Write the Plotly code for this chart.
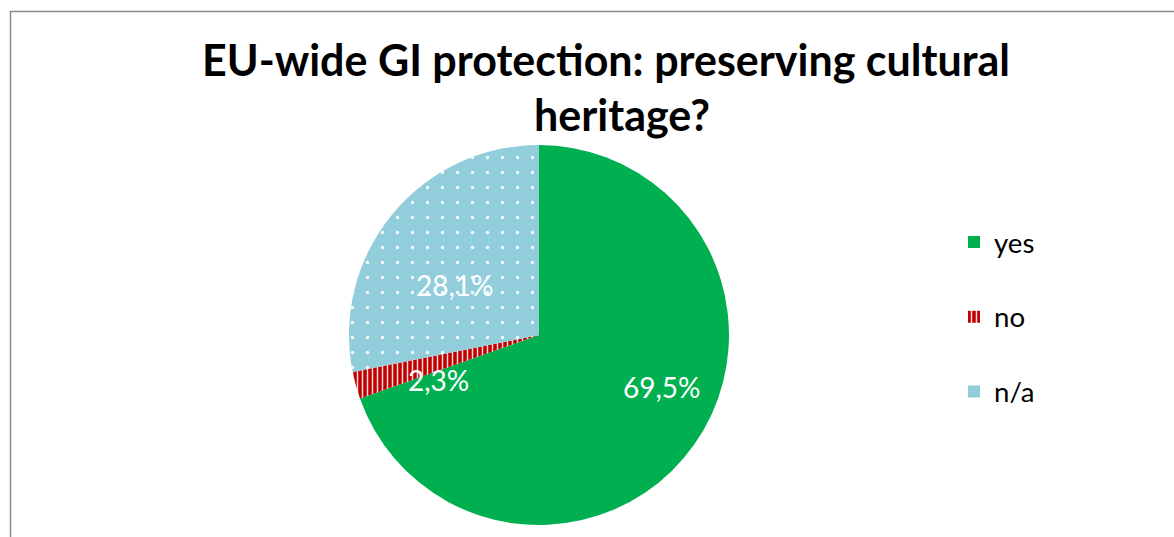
import math
import plotly.graph_objects as go

# Survey answers (share of respondents, %)
categories = ["yes", "no", "n/a"]
shares = [69.5, 2.3, 28.1]
title_lines = ["EU-wide GI protection: preserving cultural", "heritage?"]

W, H = 1174, 537
FONT = "Lato, 'Open Sans', sans-serif"

# Pie geometry in pixels (margins are zero, so paper == pixels)
cx, cy, r = 539, 335, 190

colors = ["#00B050", "#C00000", "#92CDDC"]
pattern_shapes = ["", "|", "."]
pattern_fg = ["#00B050", "rgba(255,255,255,0.85)", "rgba(255,255,255,0.9)"]
pattern_size = [8, 5, 15]
pattern_solidity = [0.3, 0.3, 0.04]

fig = go.Figure()
fig.add_trace(go.Pie(
    labels=[c + "<br> " for c in categories],
    values=shares,
    sort=False,
    direction="clockwise",
    rotation=0,
    textinfo="none",
    hoverinfo="skip",
    marker=dict(
        colors=colors,
        line=dict(width=0),
        pattern=dict(
            shape=pattern_shapes,
            fgcolor=pattern_fg,
            bgcolor=colors,
            size=pattern_size,
            solidity=pattern_solidity,
            fillmode="replace",
        ),
    ),
    domain=dict(
        x=[(cx - r) / W, (cx + r) / W],
        y=[(H - cy - r) / H, (H - cy + r) / H],
    ),
))

# Data labels placed near each slice's bisector
total = sum(shares)
radial = [0.71, 0.59, 0.505]
angle_shift = -10.5
text_lift = 4  # raise glyphs so the digits sit centred on the anchor
cum = 0.0
annotations = []
for cat, v, rf in zip(categories, shares, radial):
    mid = (cum + v / 2) / total * 360.0 + angle_shift
    cum += v
    px = cx + rf * r * math.sin(math.radians(mid))
    py = cy - rf * r * math.cos(math.radians(mid)) - text_lift
    annotations.append(dict(
        x=px / W, y=1 - py / H, xref="paper", yref="paper",
        text=f"{v:.1f}".replace(".", ",") + "%",
        showarrow=False, xanchor="center", yanchor="middle",
        font=dict(family=FONT, size=28, color="white"),
    ))

# Title, one annotation per line
for line, x, y in zip(title_lines, [606, 622], [60, 114.5]):
    annotations.append(dict(
        x=x / W, y=1 - y / H, xref="paper", yref="paper",
        text=f"<b>{line}</b>", showarrow=False,
        xanchor="center", yanchor="middle",
        font=dict(family=FONT, size=43, color="black"),
    ))

fig.update_layout(
    width=W, height=H,
    margin=dict(l=0, r=0, t=0, b=0),
    paper_bgcolor="white",
    plot_bgcolor="white",
    showlegend=True,
    legend=dict(
        x=954 / W, y=1 - 217.5 / H, xanchor="left", yanchor="top",
        font=dict(family=FONT, size=27.6, color="black"),
        valign="top",
        itemclick=False, itemdoubleclick=False,
        bgcolor="rgba(0,0,0,0)",
    ),
    annotations=annotations,
    shapes=[dict(
        type="rect", xref="paper", yref="paper",
        x0=10.5 / W, x1=1.05, y0=-0.05, y1=1 - 11.5 / H,
        line=dict(color="#8C8C8C", width=1.5),
        fillcolor="rgba(0,0,0,0)", layer="below",
    )],
)

fig.write_html("out.html")
